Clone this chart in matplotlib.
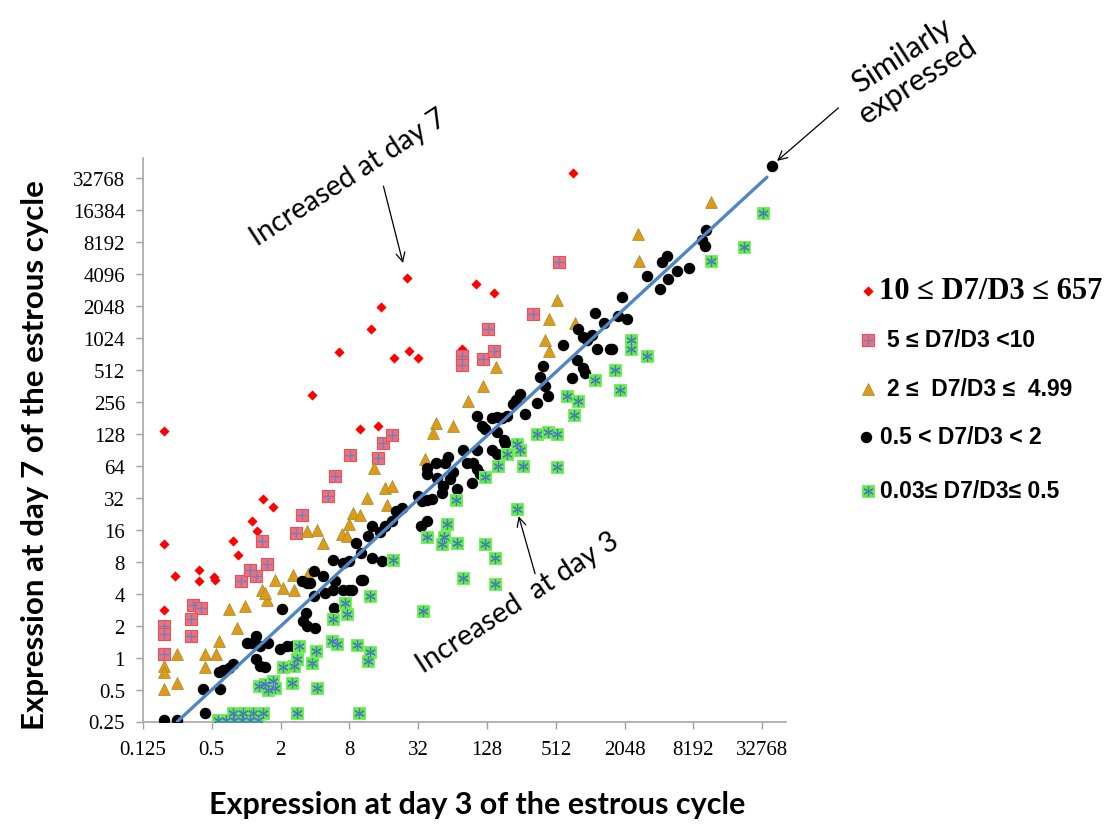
import matplotlib
matplotlib.use("Agg")
import matplotlib.pyplot as plt
from matplotlib.ticker import NullLocator

W, H = 1115, 828

# expression at day 3 (x) and day 7 (y), one pair of lists per D7/D3 class
red_d3 = [0.19, 0.19, 0.19, 0.24, 0.39, 0.39, 0.52, 0.53, 0.77, 0.84, 1.13, 1.25, 1.41, 1.73,
          3.8, 6.5, 9.9, 12.4, 14.3, 15, 19.8, 25.4, 26.8, 32, 77, 103, 147, 720]
red_d7 = [134, 11.6, 2.8, 5.9, 6.7, 5.3, 5.7, 5.4, 12.6, 9.3, 19.2, 15.4, 31, 26,
          293, 756, 140, 1235, 150, 1990, 654, 3730, 760, 654, 790, 3230, 2700, 36300]

pink_d3 = [0.19, 0.19, 0.19, 0.34, 0.40, 0.33, 0.33, 0.9, 1.08, 1.22, 1.37, 1.51, 2.71, 3.06,
           5.2, 6.0, 8.1, 14.2, 15.6, 18.8, 77, 77, 117, 130, 147, 321, 546]
pink_d7 = [1.96, 1.68, 1.07, 3.15, 2.93, 2.31, 1.59, 5.3, 6.7, 5.8, 12.4, 7.6, 14.7, 21.7,
           33, 51, 80, 75, 105, 123, 683, 570, 645, 1220, 760, 1690, 5230]

orange_d3 = [13.2, 16.4, 18.8, 17, 11.5, 8.65, 9.9, 8.0, 6.85, 7.6, 4.7, 3.4, 4.14, 2.58, 3.45,
             2.11, 2.62, 1.79, 1.38, 1.51, 1.46, 0.98, 0.70, 0.83, 0.58, 0.44, 0.54, 0.44, 0.25,
             0.19, 0.19, 0.25, 0.19, 521, 449, 754, 412, 449, 152, 117, 88, 45.8, 43.4, 64, 36.7,
             11600, 2700, 2750]
orange_d7 = [60, 39.5, 41.5, 27.5, 31.8, 23, 22.1, 18.2, 14.4, 13.8, 12, 15.4, 16, 6.0, 6.1,
             4.5, 4.3, 5.4, 4.3, 3.5, 4.06, 3.04, 2.87, 1.9, 1.42, 1.09, 1.09, 0.82, 1.09,
             0.84, 0.73, 0.57, 0.51, 2330, 1535, 1390, 980, 760, 543, 362, 258, 161, 130, 152, 74,
             19200, 9540, 5350]

black_d3 = [20.5, 18.8, 12.5, 11.6, 9.1, 10.1, 12.5, 5.7, 7.1, 8.0, 3.94, 4.73, 6.0, 3.06, 3.38,
            3.62, 3.94, 4.9, 5.72, 7.08, 8.0, 8.4, 10.1, 10.5, 5.86, 3.34, 3.16, 3.42, 4.0, 2.05,
            1.22, 1.01, 1.12, 1.32, 1.56, 1.98, 2.26, 2.58, 1.22, 1.32, 1.46, 0.77, 0.70, 0.63,
            0.58, 0.42, 0.59, 0.44, 0.19, 0.25, 15.5, 14.8, 16.4, 22.9, 32, 34.4, 38, 42,
            1130, 806, 891, 966, 1168, 588, 790, 891, 920, 705, 398, 372, 412, 440, 353, 249,
            230, 215, 275, 190, 172, 156, 141, 104, 115, 123, 156, 180, 184, 141, 156, 104, 78.5,
            58.7, 55, 45.8, 38, 38.2, 46.5, 65, 60.7, 69.5, 85, 97, 104, 111, 94, 53, 51.4, 38, 34,
            39700, 10560, 9680, 10350, 4780, 4320, 3200, 4940, 5850, 7550, 4180, 1930, 1350, 1800,
            2140, 1056, 1526, 1590]
black_d7 = [23.8, 19.2, 17.2, 14, 12, 9.7, 8.7, 8.35, 7.8, 8.05, 6.5, 5.8, 5.2, 5.2, 4.97,
            5.04, 3.77, 4.06, 4.36, 4.36, 4.36, 4.3, 5.4, 5.4, 2.93, 2.63, 2.19, 1.97, 1.9, 2.87,
            1.59, 1.37, 1.37, 1.28, 1.37, 1.19, 1.28, 1.28, 0.96, 0.83, 0.82, 0.86, 0.8, 0.77,
            0.73, 0.51, 0.51, 0.30, 0.257, 0.257, 8.1, 15, 17.2, 25.6, 33, 29.5, 30.2, 30.7,
            1750, 1235, 1040, 966, 790, 880, 636, 524, 470, 428, 550, 437, 362, 287, 249, 304,
            267, 240, 197, 186, 180, 184, 180, 186, 150, 140, 131, 112, 105, 90.5, 83, 90.5, 90.5,
            77, 68, 68, 61, 52.7, 49, 55.4, 47.3, 38.6, 68, 68, 58.7, 52.7, 44, 40.9, 35.4, 19.2, 17.2,
            42500, 10460, 8430, 7400, 6050, 5230, 3920, 3650, 4300, 4630, 2940, 2470, 1390, 1625,
            1535, 1090, 790, 805]

green_d3 = [0.57, 0.67, 0.78, 0.92, 1.08, 1.27, 0.77, 0.94, 1.15, 1.4, 2.77, 9.8,
            19.4, 12.1, 7.3, 7.6, 5.7, 5.6, 6.2, 9.3, 12.1, 11.7, 2.9, 4.06, 3.74, 2.11, 2.62, 2.77,
            1.30, 1.46, 1.73, 1.79, 1.56, 2.5, 4.14,
            1130, 638, 806, 739, 348, 440, 521, 233, 249, 190, 161, 265, 521, 123, 68.5, 233, 57.5,
            38, 54.2, 69.5, 51.4, 123, 150, 79.4, 150, 35.5,
            33500, 22700, 11600, 2330, 2330, 3240, 1690, 1870]
green_d7 = [0.26, 0.26, 0.26, 0.26, 0.26, 0.26, 0.30, 0.30, 0.30, 0.30, 0.30, 0.30,
            8.35, 3.77, 3.27, 2.54, 2.28, 1.42, 1.33, 1.30, 1.12, 0.92, 1.28, 1.15, 0.89, 0.82, 0.83, 0.96,
            0.54, 0.56, 0.60, 0.52, 0.50, 0.58, 0.52,
            406, 287, 258, 193, 128, 131, 128, 101, 90.5, 83, 64, 64, 62, 50, 30.2, 24.7, 17.9,
            13.7, 13.7, 12, 11.6, 11.6, 8.7, 5.6, 4.9, 2.73,
            15250, 7300, 5350, 980, 790, 683, 512, 332]

line_d3 = [0.25, 36000]
line_d7 = [0.25, 33000]

x_ticks = [0.125, 0.5, 2, 8, 32, 128, 512, 2048, 8192, 32768]
x_tick_labels = ["0.125", "0.5", "2", "8", "32", "128", "512", "2048", "8192", "32768"]
y_ticks = [0.25, 0.5, 1, 2, 4, 8, 16, 32, 64, 128, 256, 512, 1024, 2048, 4096, 8192, 16384, 32768]
y_tick_labels = ["0.25", "0.5", "1", "2", "4", "8", "16", "32", "64", "128", "256", "512",
                 "1024", "2048", "4096", "8192", "16384", "32768"]

legend_labels = ["10 \u2264 D7/D3 \u2264 657", "5 \u2264 D7/D3 <10", "2 \u2264  D7/D3 \u2264  4.99",
                 "0.5 < D7/D3 < 2", "0.03\u2264 D7/D3\u2264 0.5"]

fig = plt.figure(figsize=(W / 100, H / 100), dpi=100)
ax = fig.add_axes([143 / W, 1 - 722.5 / H, (786 - 143) / W, (722.5 - 159) / H])
ax.set_xscale("log", base=2)
ax.set_yscale("log", base=2)
ax.set_xlim(0.125, 2 ** 15.69)
ax.set_ylim(0.25, 2 ** 15.61)

red_style = dict(marker="D", s=27, c="#FF0000", linewidths=0)
pink_style = dict(marker="s", s=82, c="#F0707A", edgecolors="#E8505A", linewidths=0.8)
pink_cross = dict(marker="+", s=50, c="#6F7FC0", linewidths=1.0)
orange_style = dict(marker="^", s=72, c="#E09A1A", edgecolors="#A89030", linewidths=0.6)
black_style = dict(marker="o", s=68, c="black", linewidths=0)
green_style = dict(marker="s", s=78, c="#5EF03C", edgecolors="#80E870", linewidths=0.8)
green_star = dict(marker=(6, 2, 0), s=48, c="#4A7AC0", linewidths=0.9)

ax.scatter(red_d3, red_d7, zorder=3, **red_style)
ax.scatter(pink_d3, pink_d7, zorder=4, **pink_style)
ax.scatter(pink_d3, pink_d7, zorder=4, **pink_cross)
ax.scatter(orange_d3, orange_d7, zorder=5, **orange_style)
ax.scatter(black_d3, black_d7, zorder=6, **black_style)
ax.scatter(green_d3, green_d7, zorder=7, **green_style)
ax.scatter(green_d3, green_d7, zorder=7, **green_star)
ax.plot(line_d3, line_d7, color="#4F86C6", lw=2.4, solid_capstyle="round", zorder=8)

ax.set_xticks(x_ticks)
ax.set_xticklabels(x_tick_labels)
ax.set_yticks(y_ticks)
ax.set_yticklabels(y_tick_labels)
ax.xaxis.set_minor_locator(NullLocator())
ax.yaxis.set_minor_locator(NullLocator())
for lab in ax.get_xticklabels() + ax.get_yticklabels():
    lab.set_fontfamily("Liberation Serif")
    lab.set_fontsize(15)
ax.tick_params(axis="both", direction="out", length=5, width=1, color="#A0A0A0", pad=8)

for side in ["top", "right"]:
    ax.spines[side].set_visible(False)
for side in ["left", "bottom"]:
    ax.spines[side].set_color("#A6A6A6")
    ax.spines[side].set_linewidth(1.2)

ax.set_xlabel("Expression at day 3 of the estrous cycle", family="Lato", fontweight="bold",
              fontsize=22, va="center")
ax.xaxis.set_label_coords((477 - 143) / (786 - 143), (722.5 - 805) / (722.5 - 159))
ax.set_ylabel("Expression at day 7 of the estrous cycle", family="Lato", fontweight="bold",
              fontsize=22.5, va="center")
ax.yaxis.set_label_coords((35 - 143) / (786 - 143), (722.5 - 455) / (722.5 - 159))

# arrow targets: the labelled points themselves
top_black = black_d7.index(max(black_d7))
arrow = dict(arrowstyle="->", color="black", lw=0.9, mutation_scale=16, shrinkA=0)
ax.annotate("", xy=(red_d3[21], red_d7[21]), xytext=(-16.8, 66), textcoords="offset points",
            arrowprops=dict(arrow, shrinkB=11))
ax.annotate("", xy=(green_d3[50], green_d7[50]), xytext=(13.2, -46.3), textcoords="offset points",
            arrowprops=dict(arrow, shrinkB=5))
ax.annotate("", xy=(black_d3[top_black], black_d7[top_black]), xytext=(48, 41.5),
            textcoords="offset points", arrowprops=dict(arrow, shrinkB=5))

fig.text(349 / W, 1 - 178 / H, "Increased at day 7", rotation=33, rotation_mode="anchor",
         ha="center", va="center", fontsize=20.5, family="Lato")
fig.text(518 / W, 1 - 603 / H, "Increased  at day 3", rotation=33, rotation_mode="anchor",
         ha="center", va="center", fontsize=20.5, family="Lato")
fig.text(910 / W, 1 - 68 / H, "Similarly\nexpressed", rotation=33, rotation_mode="anchor",
         ha="center", va="center", multialignment="center", fontsize=22, family="Lato",
         linespacing=1.05)

# legend drawn in figure pixel space
lax = fig.add_axes([0, 0, 1, 1], facecolor="none")
lax.set_xlim(0, W)
lax.set_ylim(H, 0)
lax.axis("off")
rows_y = [292, 341, 390, 438, 492]
lax.scatter([868], [rows_y[0]], **red_style)
lax.scatter([868], [rows_y[1]], **pink_style)
lax.scatter([868], [rows_y[1]], **pink_cross)
lax.scatter([868], [rows_y[2]], **orange_style)
lax.scatter([866], [rows_y[3]], **black_style)
lax.scatter([868], [rows_y[4]], **green_style)
lax.scatter([868], [rows_y[4]], **green_star)
lax.text(879, rows_y[0], legend_labels[0], family="Liberation Serif", fontweight="bold",
         fontsize=22, va="center", ha="left")
text_x = [887, 887, 880, 880]
for i in range(1, 5):
    lax.text(text_x[i - 1], rows_y[i], legend_labels[i], family="Liberation Sans",
             fontweight="bold", fontsize=16.5, va="center", ha="left")

fig.savefig("out.png", dpi=100, facecolor="white")
